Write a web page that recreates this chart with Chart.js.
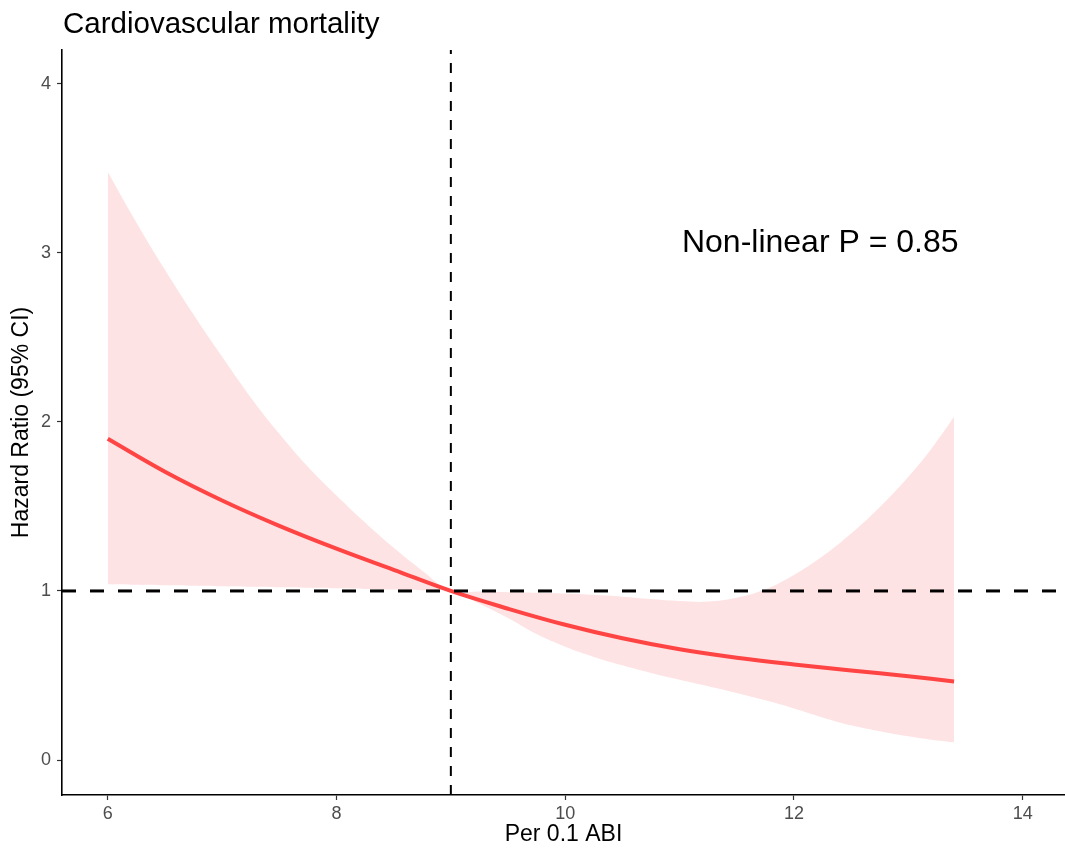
<!DOCTYPE html>
<html lang="en">
<head>
    <meta charset="UTF-8">
    <title>Cardiovascular mortality</title>
    <script src="https://cdn.jsdelivr.net/npm/chart.js"></script>
    <style>
        body {
            margin: 0;
            background: #ffffff;
        }
    </style>
</head>
<body>

<canvas id="rcsChart" width="1065" height="852"></canvas>

<script>
    // spline estimate (HR) and its 95% CI
    const hrX = [6, 6.5, 7, 7.5, 8, 8.5, 9, 9.5, 10, 10.5, 11, 11.5, 12, 12.5, 13, 13.4];
    const hrValues = [1.90, 1.705, 1.535, 1.385, 1.25, 1.125, 1.00, 0.895, 0.80, 0.72, 0.655, 0.605, 0.565, 0.53, 0.495, 0.465];

    const ciX = [6, 6.25, 6.5, 6.75, 7, 7.25, 7.5, 7.75, 8, 8.25, 8.5, 8.75, 9, 9.25, 9.5, 9.75, 10, 10.25, 10.5, 10.75, 11, 11.25, 11.5, 11.75, 12, 12.25, 12.5, 12.75, 13, 13.2, 13.4];
    const ciUpper = [3.48, 3.18, 2.90, 2.635, 2.385, 2.145, 1.93, 1.735, 1.565, 1.405, 1.255, 1.12, 1.00, 0.997, 0.993, 0.99, 0.985, 0.977, 0.966, 0.952, 0.94, 0.937, 0.96, 1.01, 1.095, 1.205, 1.34, 1.495, 1.675, 1.84, 2.03];
    const ciLower = [1.04, 1.037, 1.034, 1.031, 1.028, 1.025, 1.022, 1.019, 1.016, 1.012, 1.008, 1.004, 1.00, 0.925, 0.84, 0.745, 0.67, 0.61, 0.56, 0.515, 0.475, 0.437, 0.397, 0.353, 0.305, 0.252, 0.205, 0.17, 0.14, 0.12, 0.105];

    const xTicks = [6, 8, 10, 12, 14];
    const yTicks = [0, 1, 2, 3, 4];
    const refX = 9;   // reference value (vertical dashed line)
    const refHR = 1;  // HR = 1 (horizontal dashed line)

    const xMin = 5.6, xMax = 14.37;
    const yMin = -0.207, yMax = 4.2;

    const chartTitle = 'Cardiovascular mortality';
    const pText = 'Non-linear P = 0.85';
    const pAt = { x: 12.23 };

    const FONT = "'Liberation Sans', Arial, sans-serif";

    const toPoints = (xs, ys) => xs.map((x, i) => ({ x: x, y: ys[i] }));

    // title + p-value annotation
    const textPlugin = {
        id: 'textPlugin',
        afterDraw(chart) {
            const ctx = chart.ctx;
            const area = chart.chartArea;
            ctx.save();
            ctx.fillStyle = '#000000';
            ctx.textBaseline = 'alphabetic';
            ctx.font = '29.5px ' + FONT;
            ctx.textAlign = 'left';
            ctx.fillText(chartTitle, area.left + 1, 33);
            ctx.font = '32px ' + FONT;
            ctx.textAlign = 'center';
            ctx.fillText(pText, chart.scales.x.getPixelForValue(pAt.x), 252);
            ctx.restore();
        }
    };

    const axisCommon = {
        type: 'linear',
        grid: {
            drawOnChartArea: false,
            drawTicks: true,
            tickLength: 5,
            tickColor: '#333333',
            tickWidth: 1.2
        },
        border: { display: true, color: '#000000', width: 1.6 },
        ticks: {
            color: '#4D4D4D',
            font: { family: FONT, size: 18 }
        }
    };

    const SMOOTH = 0.4;

    new Chart(document.getElementById('rcsChart').getContext('2d'), {
        type: 'line',
        data: {
            datasets: [
                {
                    label: 'upper',
                    data: toPoints(ciX, ciUpper),
                    borderWidth: 0,
                    borderColor: 'rgba(0,0,0,0)',
                    backgroundColor: '#FEE3E4',
                    fill: 1,
                    pointRadius: 0,
                    tension: SMOOTH,
                    order: 4
                },
                {
                    label: 'lower',
                    data: toPoints(ciX, ciLower),
                    borderWidth: 0,
                    borderColor: 'rgba(0,0,0,0)',
                    fill: false,
                    pointRadius: 0,
                    tension: SMOOTH,
                    order: 5
                },
                {
                    label: 'HR',
                    data: toPoints(hrX, hrValues),
                    borderColor: '#FF4444',
                    borderWidth: 4,
                    fill: false,
                    pointRadius: 0,
                    tension: SMOOTH,
                    order: 2
                },
                {
                    label: 'HR = 1',
                    data: [{ x: xMin, y: refHR }, { x: xMax, y: refHR }],
                    borderColor: '#000000',
                    borderWidth: 3,
                    borderDash: [14, 14],
                    fill: false,
                    pointRadius: 0,
                    order: 1
                },
                {
                    label: 'reference',
                    data: [{ x: refX, y: yMin }, { x: refX, y: yMax }],
                    borderColor: '#000000',
                    borderWidth: 2,
                    borderDash: [10, 9],
                    fill: false,
                    pointRadius: 0,
                    order: 0
                }
            ]
        },
        options: {
            responsive: false,
            animation: false,
            layout: { padding: { top: 50, right: 0, left: 0, bottom: 0 } },
            plugins: {
                legend: { display: false },
                tooltip: { enabled: false },
                title: { display: false }
            },
            scales: {
                x: {
                    ...axisCommon,
                    min: xMin,
                    max: xMax,
                    ticks: { ...axisCommon.ticks, padding: 3 },
                    afterBuildTicks: scale => { scale.ticks = xTicks.map(v => ({ value: v })); },
                    afterFit: scale => { scale.height = 57; },
                    title: {
                        display: true,
                        text: 'Per 0.1 ABI',
                        color: '#000000',
                        font: { family: FONT, size: 23 },
                        padding: { top: 0, bottom: 4 }
                    }
                },
                y: {
                    ...axisCommon,
                    min: yMin,
                    max: yMax,
                    ticks: { ...axisCommon.ticks, padding: 6 },
                    afterBuildTicks: scale => { scale.ticks = yTicks.map(v => ({ value: v })); },
                    afterFit: scale => { scale.width = 62; },
                    title: {
                        display: true,
                        text: 'Hazard Ratio (95% CI)',
                        color: '#000000',
                        font: { family: FONT, size: 23 },
                        padding: { top: 8, bottom: 0 }
                    }
                }
            }
        },
        plugins: [textPlugin]
    });
</script>

</body>
</html>
